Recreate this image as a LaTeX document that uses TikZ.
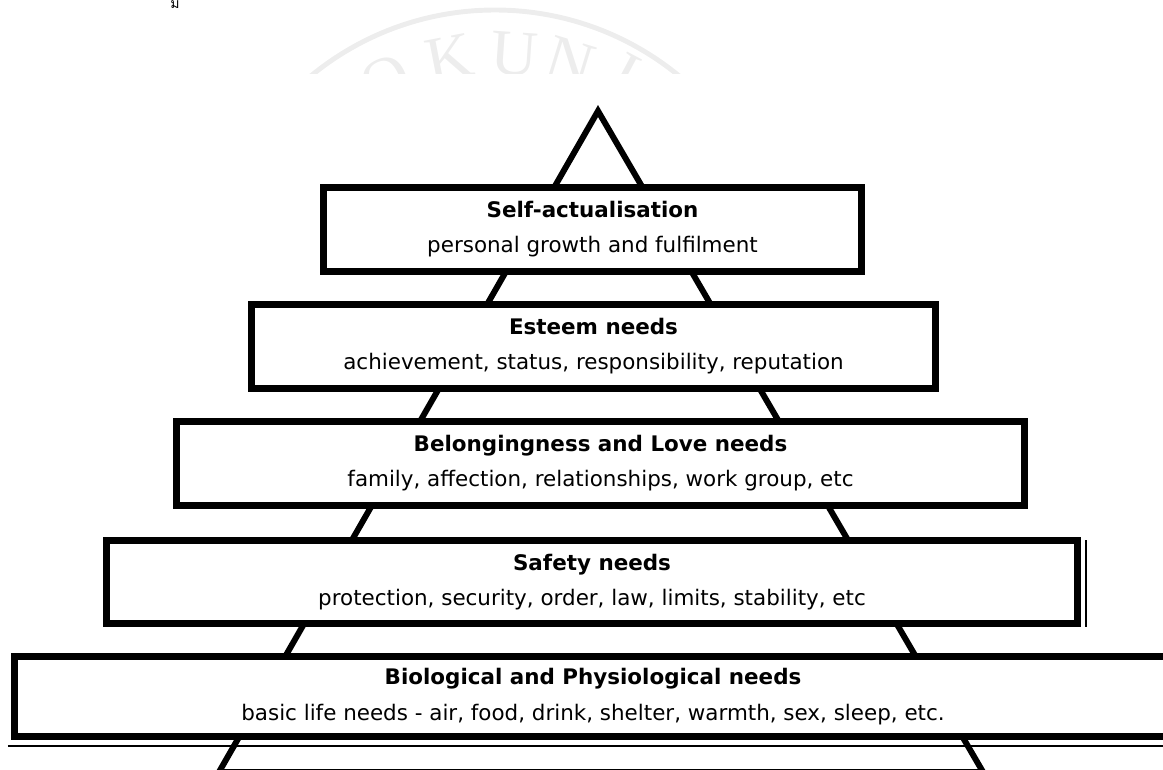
\documentclass[tikz,border=0pt]{standalone}
\usepackage{fontspec}
\setmainfont{DejaVu Sans}
\newfontfamily\thaifont[Script=Thai]{Loma}
\newfontfamily\markfont{Liberation Serif}
\usetikzlibrary{arrows}

\begin{document}
\begin{tikzpicture}[x=0.02cm,y=-0.02cm]
\tikzset{level/.style = {draw, line width=4pt, fill=white, align=center, inner sep=0pt,
  font=\fontsize{12.2}{20}\selectfont},
  side/.style = {line width=3.4pt, line join=miter},
  wmark/.style = {black!7, inner sep=0pt, font=\markfont\fontsize{37}{37}\selectfont}}
\useasboundingbox (0,0) rectangle (1163,769);
\clip (0,0) rectangle (1163,769);

% faint watermark, cut off
\begin{scope}
\clip (0,0) rectangle (1163,73);
\draw[black!7, line width=2.8pt] (495,300) circle[radius=290];
\node[wmark, rotate=25] (w1) at (386,80) {O};
\node[wmark, rotate=11] (w2) at (449,58) {K};
\node[wmark, rotate=-4] (w3) at (514,54) {U};
\node[wmark, rotate=-17] (w4) at (570,62) {N};
\node[wmark, rotate=-28] (w5) at (625,75) {I};
\end{scope}
\node[font=\thaifont\fontsize{8}{8}\selectfont, anchor=base, inner sep=0pt] (th) at (175,8) {ม};

\coordinate (apex) at (598,111);
\coordinate (baseL) at (219,772);
\coordinate (baseR) at (983,772);
\draw[side] (baseL) -- (apex) -- (baseR) -- cycle;

\node[level, minimum width=538*0.02cm, minimum height=84*0.02cm] (sa) at (592.5,229.5)
  {\textbf{Self-actualisation}\\personal growth and fulfilment};
\node[level, minimum width=684*0.02cm, minimum height=84*0.02cm] (es) at (593.5,346.5)
  {\textbf{Esteem needs}\\achievement, status, responsibility, reputation};
\node[level, minimum width=848*0.02cm, minimum height=84*0.02cm] (bl) at (600.5,463.5)
  {\textbf{Belongingness and Love needs}\\family, affection, relationships, work group, etc};
\node[level, minimum width=971*0.02cm, minimum height=83*0.02cm] (sf) at (592,582)
  {\textbf{Safety needs}\\protection, security, order, law, limits, stability, etc};
\node[level, minimum width=1157*0.02cm, minimum height=80*0.02cm] (bp) at (593,696.5)
  {\textbf{Biological and Physiological needs}\\basic life needs - air, food, drink, shelter, warmth, sex, sleep, etc.};

% thin second rules
\draw[line width=0.9pt] (sf.north east) ++(5,3) coordinate (sfa) -- (sfa |- sf.south east);
\draw[line width=0.9pt] (bp.south west) ++(-3,6) coordinate (bpa) -- ++(1170,0);
\end{tikzpicture}
\end{document}
